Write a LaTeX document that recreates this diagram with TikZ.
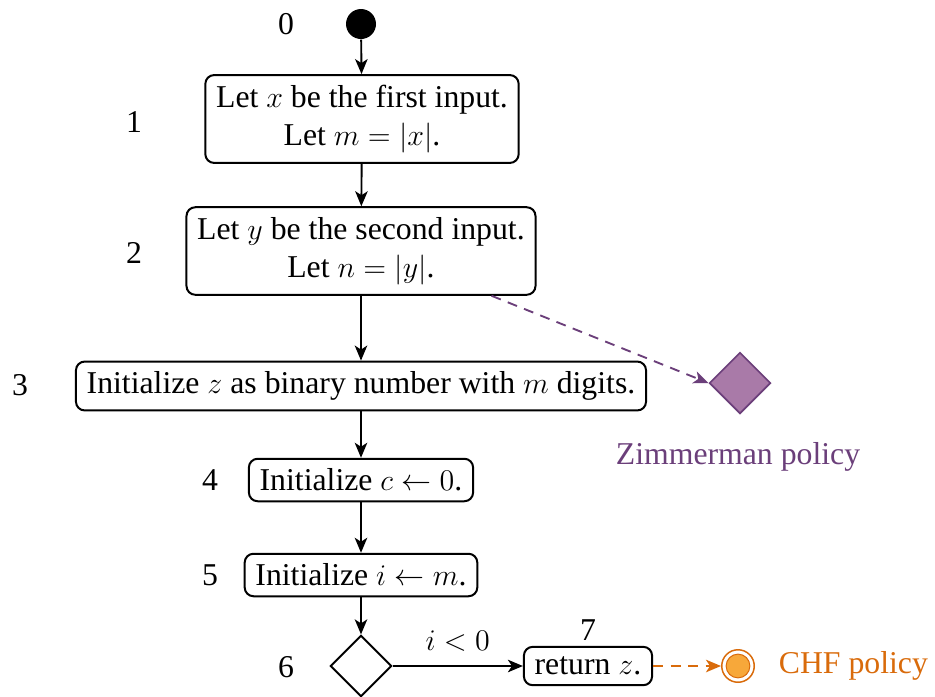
\documentclass[tikz,border=0pt]{standalone}
\usepackage{fontspec}
\setmainfont{Liberation Serif}
\usetikzlibrary{arrows.meta,shapes.geometric}
\definecolor{zpurple}{HTML}{6B3F7A}
\definecolor{zfill}{HTML}{A97AA8}
\definecolor{corange}{HTML}{D96B0B}
\definecolor{cfill}{HTML}{F7A83A}
\tikzset{
  stepbox/.style={draw, line width=0.8pt, rounded corners=3.5pt, align=center, inner xsep=4.3pt, inner ysep=4pt, font=\fontsize{12.7}{15.2}\selectfont},
  flow/.style={-{Stealth[length=6pt,width=5pt,inset=1.6pt]}, line width=0.75pt},
  numlbl/.style={font=\fontsize{12.7}{14.6}\selectfont},
  dec/.style={draw, diamond, line width=0.8pt, minimum width=24.5pt, minimum height=24.5pt, inner sep=0pt},
}
\begin{document}
\begin{tikzpicture}[x=0.4pt,y=-0.4pt]
\useasboundingbox (0,0) rectangle (935,696);
\node[circle, fill=black, minimum size=12pt, inner sep=0pt] (s) at (361,24) {};
\node[numlbl] (l0) at (286,24) {0};
\node[stepbox] (b1) at (362,119) {Let $x$ be the first input.\\Let $m=|x|$.};
\node[numlbl] (l1) at (134,122) {1};
\node[stepbox] (b2) at (361,251) {Let $y$ be the second input.\\Let $n=|y|$.};
\node[numlbl] (l2) at (134,253) {2};
\node[stepbox] (b3) at (361,386) {Initialize $z$ as binary number with $m$ digits.};
\node[numlbl] (l3) at (20,385) {3};
\node[stepbox] (b4) at (361,480) {Initialize $c\leftarrow 0$.};
\node[numlbl] (l4) at (210,480) {4};
\node[stepbox] (b5) at (361,575) {Initialize $i\leftarrow m$.};
\node[numlbl] (l5) at (210,575) {5};
\node[dec] (d6) at (361,666) {};
\node[numlbl] (l6) at (286,667) {6};
\node[stepbox] (b7) at (588,666) {return $z$.};
\node[numlbl] (l7) at (588,630) {7};
\node[draw=zpurple, fill=zfill, diamond, line width=0.7pt, minimum width=24.5pt, minimum height=24.5pt, inner sep=0pt] (zd) at (740,383) {};
\node[text=zpurple, numlbl] (zl) at (738,457) {Zimmerman policy};
\node[draw=corange, circle, line width=0.6pt, minimum size=13pt, inner sep=0pt] (cc) at (738,666) {};
\node[fill=cfill, draw=corange, line width=0.4pt, circle, minimum size=9.5pt, inner sep=0pt] (ci) at (738,666) {};
\node[text=corange, numlbl, anchor=west] (cl) at (770,666) {CHF policy};
\draw[flow] (s) -- (b1);
\draw[flow] (b1) -- (b2);
\draw[flow] (b2) -- (b3);
\draw[flow] (b3) -- (b4);
\draw[flow] (b4) -- (b5);
\draw[flow] (b5) -- (d6);
\draw[flow] (d6) -- node[above, numlbl, yshift=2pt] {$i<0$} (b7);
\draw[flow, draw=zpurple, dash pattern=on 4pt off 3pt] (b2.south east) ++(-45,0) coordinate (zs) (zs) -- (zd.west);
\draw[flow, draw=corange, dash pattern=on 4pt off 3pt] (b7) -- (cc);
\end{tikzpicture}
\end{document}
